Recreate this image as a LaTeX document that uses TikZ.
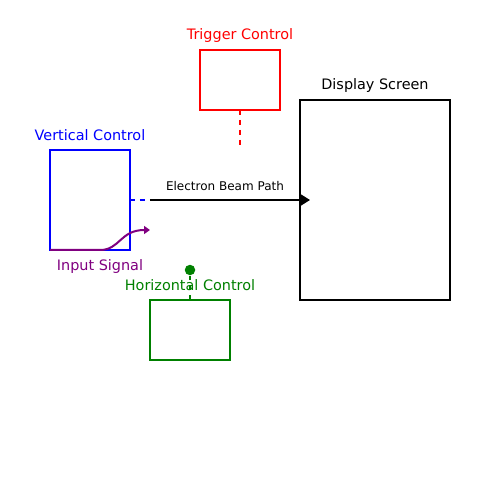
\documentclass[tikz,border=0pt]{standalone}
\usepackage{fontspec}
\setmainfont{DejaVu Sans}
\usetikzlibrary{arrows.meta}
\definecolor{cblue}{RGB}{0,0,255}
\definecolor{cred}{RGB}{255,0,0}
\definecolor{cgreen}{RGB}{0,128,0}
\definecolor{cpurple}{RGB}{128,0,128}
\tikzset{
  boxnode/.style={draw, rectangle, line width=1.14pt, inner sep=0pt, outer sep=0pt},
  lbl/.style={anchor=base, inner sep=0pt, font=\fontsize{8.2pt}{9.5pt}\selectfont},
  smalllbl/.style={anchor=base, inner sep=0pt, font=\fontsize{6.83pt}{8pt}\selectfont},
  conn/.style={line width=1.14pt},
  dashconn/.style={line width=1.14pt, dash pattern=on 0.1cm off 0.1cm},
}
\begin{document}
\begin{tikzpicture}[x=0.02cm,y=-0.02cm]
\useasboundingbox (0,0) rectangle (500,500);
% boxes
\node[boxnode, cblue, minimum width=1.6cm, minimum height=2cm] (vbox) at (90,200) {};
\node[boxnode, cred, minimum width=1.6cm, minimum height=1.2cm] (tbox) at (240,80) {};
\node[boxnode, cgreen, minimum width=1.6cm, minimum height=1.2cm] (hbox) at (190,330) {};
\node[boxnode, black, minimum width=3cm, minimum height=4cm] (disp) at (375,200) {};
% labels
\node[lbl, text=cblue] (vlbl) at (90,140) {Vertical Control};
\node[lbl, text=cred] (tlbl) at (240,40) {Trigger Control};
\node[lbl, text=black] (dlbl) at (375,90) {Display Screen};
\node[smalllbl, text=black] (blbl) at (225,190) {Electron Beam Path};
% coordinates
\coordinate (beamstart) at (150,200);
\coordinate (trigend) at (240,145);
\coordinate (sigend) at (150,230);
% connectors
\draw[dashconn, cblue] (vbox.east) -- (beamstart);
\draw[conn, black, -{Triangle[length=0.2cm,width=0.24cm]}, shorten >=-0.2cm] (beamstart) -- (disp.west);
\draw[dashconn, cred] (tbox.south) -- (trigend);
\node[circle, fill=cgreen, minimum size=0.21cm, inner sep=0pt] (hdot) at (190,270) {};
\draw[dashconn, cgreen] (hbox.north) -- (hdot.south);
\draw[conn, cpurple, -{Triangle[length=0.12cm,width=0.16cm]}] (vbox.south west) -- ++(50,0) .. controls (120,250) and (120,230) .. (sigend);
\node[lbl, text=cgreen] (hlbl) at (190,290) {Horizontal Control};
\node[lbl, text=cpurple] (slbl) at (100,270) {Input Signal};
\end{tikzpicture}
\end{document}
